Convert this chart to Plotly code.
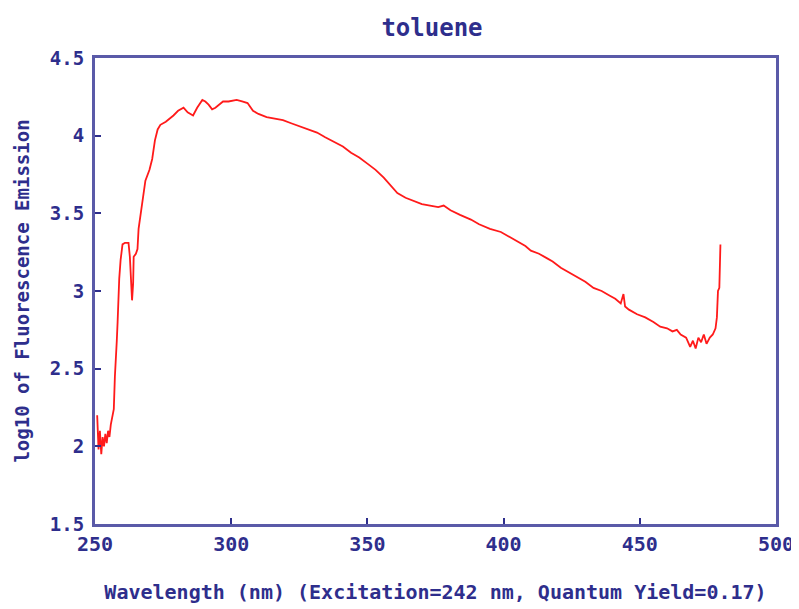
import plotly.graph_objects as go

wavelength = [250.8, 251.3, 251.8, 252.3, 252.8, 253.3, 253.8, 254.3, 254.8, 255.3, 255.8, 256.4, 256.9,
              257.3, 257.6, 258.0, 258.3, 258.6, 258.9, 259.4, 260.1, 261.0, 262.3, 262.8, 263.2, 263.6,
              264.0, 264.2, 265.0, 265.6, 266.0, 266.8, 267.4, 268.5, 270.0, 271.0, 272.0, 273.0, 274.0,
              276.0, 278.8, 280.5, 282.5, 284.0, 286.0, 287.5, 289.4, 290.5, 291.7, 293.0, 294.2, 295.5,
              297.0, 299.0, 302.0, 304.0, 306.0, 308.0, 310.0, 313.0, 316.0, 319.0, 322.0, 325.0, 328.0,
              331.5, 334.5, 337.5, 341.0, 344.0, 347.0, 350.0, 353.0, 356.0, 358.5, 361.0, 364.0, 367.0,
              370.0, 373.0, 376.0, 378.0, 380.5, 384.0, 388.0, 391.0, 395.0, 399.0, 402.0, 405.0, 408.0,
              410.0, 413.0, 416.0, 418.0, 421.0, 424.0, 427.0, 430.0, 433.0, 436.0, 439.0, 441.0, 443.0,
              444.0, 444.6, 446.0, 449.0, 452.0, 455.0, 457.5, 460.0, 462.0, 463.6, 465.0, 467.0, 468.5,
              469.5, 470.5, 471.5, 472.5, 473.5, 474.5, 475.7, 476.8, 477.8, 478.3, 478.7, 479.2, 479.6]

log_emission = [2.20, 1.98, 2.10, 1.95, 2.06, 2.00, 2.08, 2.02, 2.10, 2.06, 2.14, 2.20, 2.24,
                2.45, 2.60, 2.68, 2.80, 3.00, 3.08, 3.20, 3.30, 3.31, 3.31, 3.22, 3.10, 2.94,
                3.05, 3.22, 3.24, 3.27, 3.40, 3.50, 3.60, 3.71, 3.78, 3.85, 3.97, 4.04, 4.07,
                4.09, 4.13, 4.16, 4.18, 4.15, 4.13, 4.18, 4.23, 4.22, 4.20, 4.17, 4.18, 4.20,
                4.22, 4.22, 4.23, 4.22, 4.21, 4.16, 4.14, 4.12, 4.11, 4.10, 4.08, 4.06, 4.04,
                4.02, 3.99, 3.96, 3.93, 3.89, 3.86, 3.82, 3.78, 3.73, 3.68, 3.63, 3.60, 3.58,
                3.56, 3.55, 3.54, 3.55, 3.52, 3.49, 3.46, 3.43, 3.40, 3.38, 3.35, 3.32, 3.29,
                3.26, 3.24, 3.21, 3.19, 3.15, 3.12, 3.09, 3.06, 3.02, 3.00, 2.97, 2.95, 2.92,
                2.98, 2.90, 2.88, 2.85, 2.83, 2.80, 2.77, 2.76, 2.74, 2.75, 2.72, 2.70, 2.64,
                2.68, 2.63, 2.70, 2.67, 2.72, 2.66, 2.70, 2.72, 2.76, 2.83, 3.00, 3.02, 3.30]

x_ticks = [250, 300, 350, 400, 450, 500]
y_ticks = [1.5, 2, 2.5, 3, 3.5, 4, 4.5]
y_tick_text = ["1.5", "2", "2.5", "3", "3.5", "4", "4.5"]

navy = "#2e2e8c"
axis_col = "#5a5aa8"
font_fam = "DejaVu Sans Mono"

fig = go.Figure()
fig.add_trace(go.Scatter(x=wavelength, y=log_emission, mode="lines",
                         line=dict(color="#ff1a1a", width=1.8), showlegend=False))

fig.update_layout(
    width=791, height=601,
    margin=dict(l=87, r=23, t=50, b=85, autoexpand=False),
    paper_bgcolor="white", plot_bgcolor="white",
    title=dict(text="<b>toluene</b>", x=0.536, xanchor="center", y=0.968, yanchor="middle",
               font=dict(family=font_fam, size=24, color=navy)),
    xaxis=dict(range=[250, 500], tickvals=x_ticks, ticktext=[f"<b>{v}</b>" for v in x_ticks],
               automargin=False,
               showgrid=False, zeroline=False, showline=True, linecolor=axis_col, linewidth=3,
               mirror=True, ticks="inside", ticklen=6, tickwidth=2, tickcolor=navy,
               tickfont=dict(family=font_fam, size=20, color=navy),
               title=dict(text="<b>Wavelength (nm) (Excitation=242 nm, Quantum Yield=0.17)</b>",
                          font=dict(family=font_fam, size=20, color=navy), standoff=30)),
    yaxis=dict(range=[1.5, 4.5], tickvals=y_ticks, ticktext=[f"<b>{t}</b>" for t in y_tick_text],
               automargin=False, ticklabelstandoff=4,
               showgrid=False, zeroline=False, showline=True, linecolor=axis_col, linewidth=3,
               mirror=True, ticks="inside", ticklen=6, tickwidth=2, tickcolor=navy,
               tickfont=dict(family=font_fam, size=19, color=navy),
               title=dict(text="<b>log10 of Fluorescence Emission</b>",
                          font=dict(family=font_fam, size=19, color=navy), standoff=16)),
)

fig.write_html("out.html")
